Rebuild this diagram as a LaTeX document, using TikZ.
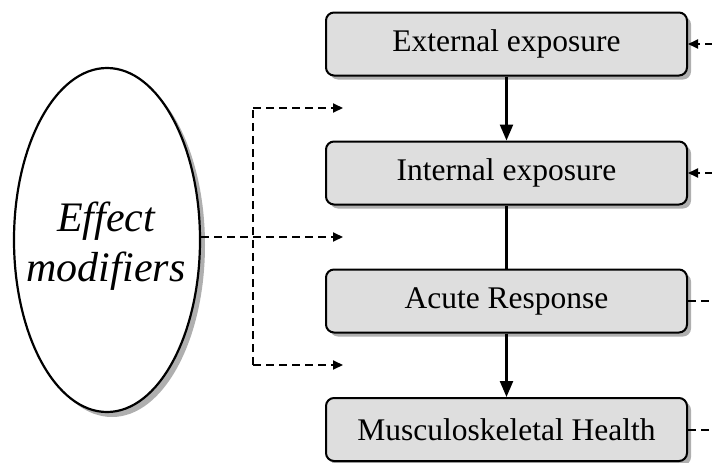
\documentclass[tikz,border=0pt]{standalone}
\usepackage{fontspec}
\setmainfont{Liberation Serif}
\usetikzlibrary{arrows.meta,shapes.geometric,shadows}
\begin{document}
\begin{tikzpicture}[x=1pt,y=-1pt,
  stagebox/.style={draw=black,line width=2pt,rounded corners=8pt,fill=boxgray,
    minimum width=361pt,minimum height=63pt,inner sep=0pt,
    font=\fontsize{31.5}{36}\selectfont,
    drop shadow={shadow xshift=4pt,shadow yshift=-4pt,fill=shadowgray,opacity=1}},
  modbox/.style={ellipse,draw=black,line width=2.2pt,fill=white,
    minimum width=186pt,minimum height=344pt,inner sep=0pt,
    drop shadow={shadow xshift=5pt,shadow yshift=-5pt,fill=shadowgray,opacity=1}},
  modtext/.style={align=center,inner sep=0pt,font=\fontsize{42}{50}\selectfont\itshape},
  solidarrow/.style={line width=2.4pt,-{Triangle[length=16pt,width=13pt]}},
  solidline/.style={line width=2.4pt},
  dasharrow/.style={line width=2pt,dash pattern=on 8pt off 5pt,-{Triangle[length=10pt,width=9pt]}},
  dashline/.style={line width=2pt,dash pattern=on 8pt off 5pt}
]
\definecolor{boxgray}{RGB}{222,222,222}
\definecolor{shadowgray}{RGB}{175,175,175}
\useasboundingbox (0,0) rectangle (712,463);

\node[stagebox] (ext) at (506.5,44) {External exposure};
\node[stagebox] (int) at (506.5,173) {Internal exposure};
\node[stagebox] (acu) at (506.5,301) {Acute Response};
\node[stagebox] (msk) at (506.5,429.5) {Musculoskeletal Health};

\node[modbox] (mod) at (107,240) {};
\node[modtext] (modlabel) at (106,246) {Effect\\modifiers};

\draw[solidarrow] (ext.south) -- (int.north);
\draw[solidline] (int.south) -- (acu.north);
\draw[solidarrow] (acu.south) -- (msk.north);

\coordinate (split) at (253,237);
\coordinate (top) at (253,108);
\coordinate (bot) at (253,365);
\coordinate (t1) at (343,108);
\coordinate (t2) at (343,237);
\coordinate (t3) at (343,365);
\draw[dasharrow] (mod.east |- split) -- (t2);
\draw[dashline] (bot) -- (top);
\draw[dasharrow] (top) -- (t1);
\draw[dasharrow] (bot) -- (t3);

\coordinate (r1) at (713,44);
\coordinate (r2) at (713,173);
\coordinate (r3) at (713,301);
\coordinate (r4) at (713,429.5);
\draw[dasharrow] (r1) -- (ext.east);
\draw[dasharrow] (r2) -- (int.east);
\draw[dashline] (acu.east) -- (r3);
\draw[dashline] (msk.east) -- (r4);
\end{tikzpicture}
\end{document}
